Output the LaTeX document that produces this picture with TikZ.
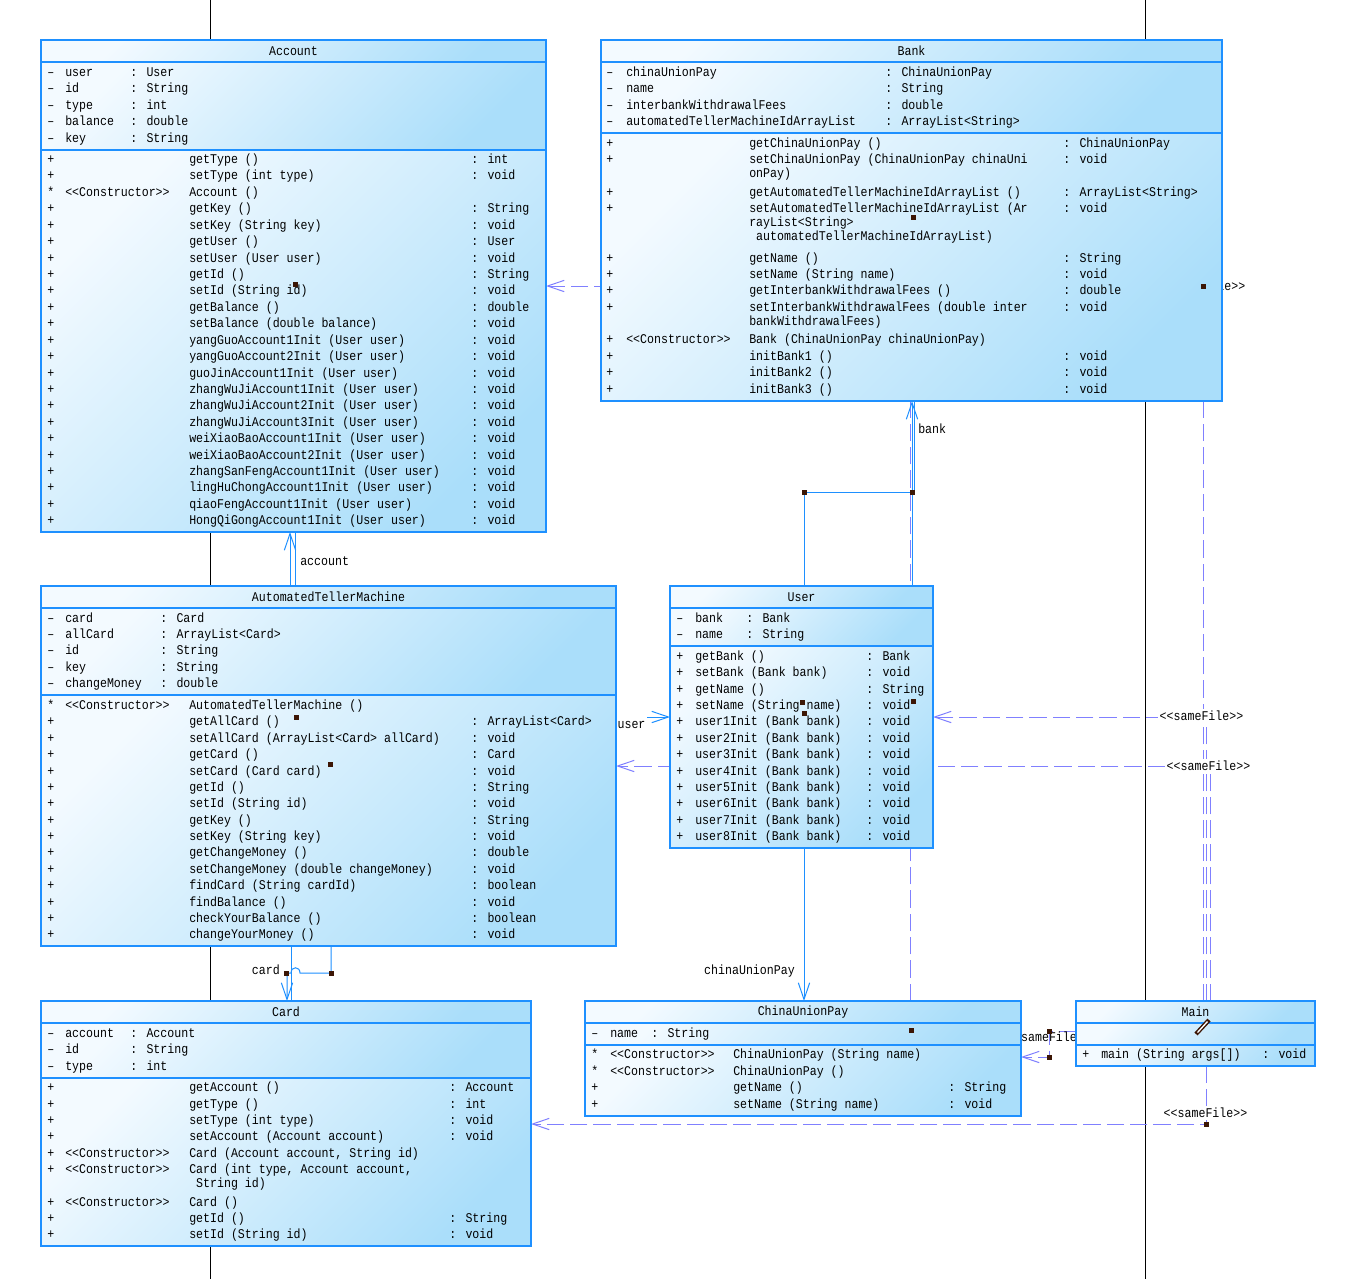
\documentclass[tikz,border=0pt]{standalone}
\usepackage{fontspec}
\usetikzlibrary{arrows.meta,calc}
\newfontfamily\umlfont{Liberation Mono}[FakeStretch=0.87]
\definecolor{boxblue}{RGB}{30,144,255}
\definecolor{cLight}{RGB}{243,250,255}
\definecolor{cDark}{RGB}{170,222,250}
\definecolor{depc}{RGB}{128,128,255}
\definecolor{markc}{RGB}{60,22,5}
\pgfdeclarelayer{bg}\pgfdeclarelayer{fg}\pgfsetlayers{bg,main,fg}
\newcommand\pxu{0.75pt}
\newcommand\umlf{\umlfont\fontsize{10pt}{12pt}\selectfont}
\tikzset{
  comp/.style={draw=boxblue, line width=0.8pt, rectangle, inner sep=0pt, outer sep=0pt,
    anchor=north west, top color=cLight, bottom color=cDark, shading angle=45, font=\umlf},
  txt/.style={anchor=base west, inner sep=0pt, font=\umlf},
  lbl/.style={inner sep=0pt, font=\umlf},
  assoc/.style={draw=boxblue, line width=0.75pt},
  dep/.style={draw=depc, line width=0.75pt, dash pattern=on 13pt off 4.5pt},
  arrA/.style={-{Straight Barb[length=12.5pt,width=8.5pt]}},
  blackline/.style={draw=black, line width=0.75pt}
}
% class box: name, x, y, width, h title, h attrs, h methods, title
\newcommand\umlclass[8]{%
  \node[comp, minimum width=#4*\pxu, minimum height=#5*\pxu] (#1-t) at (#2,#3) {#8};
  \node[comp, minimum width=#4*\pxu, minimum height=#6*\pxu] (#1-a) at (#1-t.south west) {};
  \node[comp, minimum width=#4*\pxu, minimum height=#7*\pxu] (#1-m) at (#1-a.south west) {};
}
% rows: prefix, list of y/vis/stereo/name/type ; columns \cV \cS \cN \cT
\newcommand\rowset[2]{%
  \foreach \rY/\rV/\rS/\rN/\rT [count=\ri] in {#2}{%
    \ifx\rV\empty\else\node[txt] (#1-\ri v) at (\cV,\rY+4.5) {\rV};\fi
    \ifx\rS\empty\else\node[txt] (#1-\ri s) at (\cS,\rY+4.5) {\rS};\fi
    \ifx\rN\empty\else\node[txt] (#1-\ri n) at (\cN,\rY+4.5) {\rN};\fi
    \ifx\rT\empty\else\node[txt] (#1-\ri t) at (\cT,\rY+4.5) {\rT};\fi
  }}
\begin{document}
\begin{tikzpicture}[x=0.75pt,y=-0.75pt]
\useasboundingbox (0,0) rectangle (1363,1279);
\begin{pgfonlayer}{bg}
  \fill[white] (0,0) rectangle (1363,1279);
  \draw[blackline] (210,0) -- (210,1279);
  \draw[blackline] (1145,0) -- (1145,1279);
\end{pgfonlayer}

% ---------- classes ----------
\umlclass{acc}{41}{40}{505}{22}{88}{382}{Account}
\umlclass{bank}{601}{40}{621}{22}{71}{268}{Bank}
\umlclass{atm}{41}{586}{575}{22}{87}{251}{AutomatedTellerMachine}
\umlclass{usr}{670}{586}{263}{22}{38}{202}{User}
\umlclass{card}{41}{1001}{490}{22}{55}{168}{Card}
\umlclass{cup}{585}{1001}{436}{22}{22}{71}{ChinaUnionPay}
\umlclass{main}{1076}{1001}{239}{22}{22}{21}{Main}

% Account
\def\cV{47}\def\cS{65}\def\cN{65}\def\cT{130}
\rowset{acc-a}{72/–//user/: User,88/–//id/: String,105/–//type/: int,121/–//balance/: double,138/–//key/: String}
\def\cN{189}\def\cT{471}
\rowset{acc-m}{159/+//getType ()/: int,
175.4/+//setType (int type)/: void,
191.8/*/<{}<Constructor>{}>/Account ()/,
208.3/+//getKey ()/: String,
224.7/+//setKey (String key)/: void,
241.1/+//getUser ()/: User,
257.5/+//setUser (User user)/: void,
273.9/+//getId ()/: String,
290.4/+//setId (String id)/: void,
306.8/+//getBalance ()/: double,
323.2/+//setBalance (double balance)/: void,
339.6/+//yangGuoAccount1Init (User user)/: void,
356/+//yangGuoAccount2Init (User user)/: void,
372.5/+//guoJinAccount1Init (User user)/: void,
388.9/+//zhangWuJiAccount1Init (User user)/: void,
405.3/+//zhangWuJiAccount2Init (User user)/: void,
421.7/+//zhangWuJiAccount3Init (User user)/: void,
438.1/+//weiXiaoBaoAccount1Init (User user)/: void,
454.6/+//weiXiaoBaoAccount2Init (User user)/: void,
471/+//zhangSanFengAccount1Init (User user)/: void,
487.4/+//lingHuChongAccount1Init (User user)/: void,
503.8/+//qiaoFengAccount1Init (User user)/: void,
520.2/+//HongQiGongAccount1Init (User user)/: void}

% Bank
\def\cV{606}\def\cS{626}\def\cN{626}\def\cT{885}
\rowset{bank-a}{72/–//chinaUnionPay/: ChinaUnionPay,88/–//name/: String,105/–//interbankWithdrawalFees/: double,121/–//automatedTellerMachineIdArrayList/: ArrayList<String>}
\def\cN{749}\def\cT{1063}
\rowset{bank-m}{143/+//getChinaUnionPay ()/: ChinaUnionPay,
159/+//setChinaUnionPay (ChinaUnionPay chinaUni/: void,
173///onPay)/,
192/+//getAutomatedTellerMachineIdArrayList ()/: ArrayList<String>,
208/+//setAutomatedTellerMachineIdArrayList (Ar/: void,
222///rayList<String>/,
236///~automatedTellerMachineIdArrayList)/,
258/+//getName ()/: String,
274/+//setName (String name)/: void,
290/+//getInterbankWithdrawalFees ()/: double,
307/+//setInterbankWithdrawalFees (double inter/: void,
321///bankWithdrawalFees)/,
339/+/<{}<Constructor>{}>/Bank (ChinaUnionPay chinaUnionPay)/,
356/+//initBank1 ()/: void,
372/+//initBank2 ()/: void,
389/+//initBank3 ()/: void}

% AutomatedTellerMachine
\def\cV{47}\def\cS{65}\def\cN{65}\def\cT{160}
\rowset{atm-a}{618/–//card/: Card,634/–//allCard/: ArrayList<Card>,650/–//id/: String,667/–//key/: String,683/–//changeMoney/: double}
\def\cN{189}\def\cT{471}
\rowset{atm-m}{705/*/<{}<Constructor>{}>/AutomatedTellerMachine ()/,
721/+//getAllCard ()/: ArrayList<Card>,
738/+//setAllCard (ArrayList<Card> allCard)/: void,
754/+//getCard ()/: Card,
771/+//setCard (Card card)/: void,
787/+//getId ()/: String,
803/+//setId (String id)/: void,
820/+//getKey ()/: String,
836/+//setKey (String key)/: void,
852/+//getChangeMoney ()/: double,
869/+//setChangeMoney (double changeMoney)/: void,
885/+//findCard (String cardId)/: boolean,
902/+//findBalance ()/: void,
918/+//checkYourBalance ()/: boolean,
934/+//changeYourMoney ()/: void}

% User
\def\cV{676}\def\cS{695}\def\cN{695}\def\cT{746}
\rowset{usr-a}{618/–//bank/: Bank,634/–//name/: String}
\def\cT{866}
\rowset{usr-m}{656/+//getBank ()/: Bank,
672/+//setBank (Bank bank)/: void,
689/+//getName ()/: String,
705/+//setName (String name)/: void,
721/+//user1Init (Bank bank)/: void,
738/+//user2Init (Bank bank)/: void,
754/+//user3Init (Bank bank)/: void,
771/+//user4Init (Bank bank)/: void,
787/+//user5Init (Bank bank)/: void,
803/+//user6Init (Bank bank)/: void,
820/+//user7Init (Bank bank)/: void,
836/+//user8Init (Bank bank)/: void}

% Card
\def\cV{47}\def\cS{65}\def\cN{65}\def\cT{130}
\rowset{card-a}{1033/–//account/: Account,1049/–//id/: String,1066/–//type/: int}
\def\cN{189}\def\cT{449}
\rowset{card-m}{1087/+//getAccount ()/: Account,
1104/+//getType ()/: int,
1120/+//setType (int type)/: void,
1136/+//setAccount (Account account)/: void,
1153/+/<{}<Constructor>{}>/{Card (Account account, String id)}/,
1169/+/<{}<Constructor>{}>/{Card (int type, Account account,}/,
1183///~String id)/,
1202/+/<{}<Constructor>{}>/Card ()/,
1218/+//getId ()/: String,
1234/+//setId (String id)/: void}

% ChinaUnionPay
\def\cV{591}\def\cS{610}\def\cN{610}\def\cT{651}
\rowset{cup-a}{1033/–//name/: String}
\def\cN{733}\def\cT{948}
\rowset{cup-m}{1054/*/<{}<Constructor>{}>/ChinaUnionPay (String name)/,
1071/*/<{}<Constructor>{}>/ChinaUnionPay ()/,
1087/+//getName ()/: String,
1104/+//setName (String name)/: void}

% Main
\def\cV{1082}\def\cS{1101}\def\cN{1101}\def\cT{1262}
\rowset{main-m}{1054/+//main (String args[])/: void}

% ---------- connectors (behind boxes) ----------
\begin{pgfonlayer}{bg}
  % dependencies <<sameFile>>
  \draw[dep,arrA] ($(main-t.north west)+(127,0)$) |- ($(acc-m.north east)+(0,136)$);
  \draw[dep,arrA] ($(main-t.north west)+(130,0)$) |- ($(usr-m.north east)+(0,71)$);
  \draw[dep,arrA] ($(main-t.north west)+(134,0)$) |- ($(atm-m.north east)+(0,71)$);
  \draw[dep,arrA] ($(main-m.south west)+(130,0)$) |- ($(card-m.north east)+(0,46)$);
  \draw[dep,arrA] ($(main-t.south west)+(0,8)$) -- (1049,1031) -- (1049,1057) -- ($(cup-m.north east)+(0,12)$);
  \draw[dep] ($(cup-t.north west)+(325,0)$) -- ($(bank-m.south west)+(309,0)$);
  % associations
  \draw[assoc,arrA] ($(atm-t.north west)+(249,0)$) -- ($(acc-m.south west)+(249,0)$);
  \draw[assoc] ($(atm-t.north west)+(254,0)$) -- ($(acc-m.south west)+(254,0)$);
  \draw[assoc] ($(atm-m.south west)+(250,0)$) -- ($(card-t.north west)+(250,0)$);
  \draw[assoc,arrA] ($(atm-m.south west)+(290,0)$) -- (331,973) -- (300,973)
      .. controls (300,966) and (291,966) .. (291,973) -- (287,973) -- ($(card-t.north west)+(246,0)$);
  \draw[assoc,arrA] ($(atm-m.north east)+(0,22)$) -- ($(usr-m.north west)+(0,71)$);
  \draw[assoc,arrA] ($(usr-t.north west)+(242,0)$) -- ($(bank-m.south west)+(311,0)$);
  \draw[assoc,arrA] ($(bank-m.south west)+(313,0)$) -- (914,492) -- (804,492) -- ($(cup-t.north west)+(219,0)$);
  % labels
  \node[lbl, anchor=base west] (l-account) at (300,565.5) {account};
  \node[lbl, anchor=base west] (l-bank) at (918,433.5) {bank};
  \node[lbl, anchor=base east] (l-cup) at (795,974.5) {chinaUnionPay};
  \node[lbl, anchor=base east] (l-card) at (280,974.5) {card};
  \node[lbl, anchor=west, fill=white, minimum height=20*\pxu, inner xsep=1pt] (l-user) at (616,725) {user};
  \node[lbl, fill=white, inner sep=1.5pt] (l-sf1) at (1203.5,286) {<{}<sameFile>{}>};
  \node[lbl, fill=white, inner sep=1.5pt] (l-sf2) at (1201.5,716) {<{}<sameFile>{}>};
  \node[lbl, fill=white, inner sep=1.5pt] (l-sf3) at (1208.5,766) {<{}<sameFile>{}>};
  \node[lbl, fill=white, inner sep=1.5pt] (l-sf4) at (1205.5,1113) {<{}<sameFile>{}>};
  \node[lbl] (l-sf5) at (1049,1037) {<{}<sameFile>{}>};
\end{pgfonlayer}

% ---------- editor handles ----------
\begin{pgfonlayer}{fg}
  \foreach \mx/\my in {295/284,296/717,330/764,913/217,1203/286,804/492,912/492,802/702,804/713,913/701,911/1030,1049/1031,1049/1057,1206/1124,286/973,331/973}
    \fill[markc] (\mx-2.5,\my-2.5) rectangle ++(5,5);
  \draw[markc, line width=3.2pt] (1196,1034) -- (1209,1020);
  \draw[white, line width=1pt] (1197.5,1032.5) -- (1207.5,1021.5);
\end{pgfonlayer}
\end{tikzpicture}
\end{document}
